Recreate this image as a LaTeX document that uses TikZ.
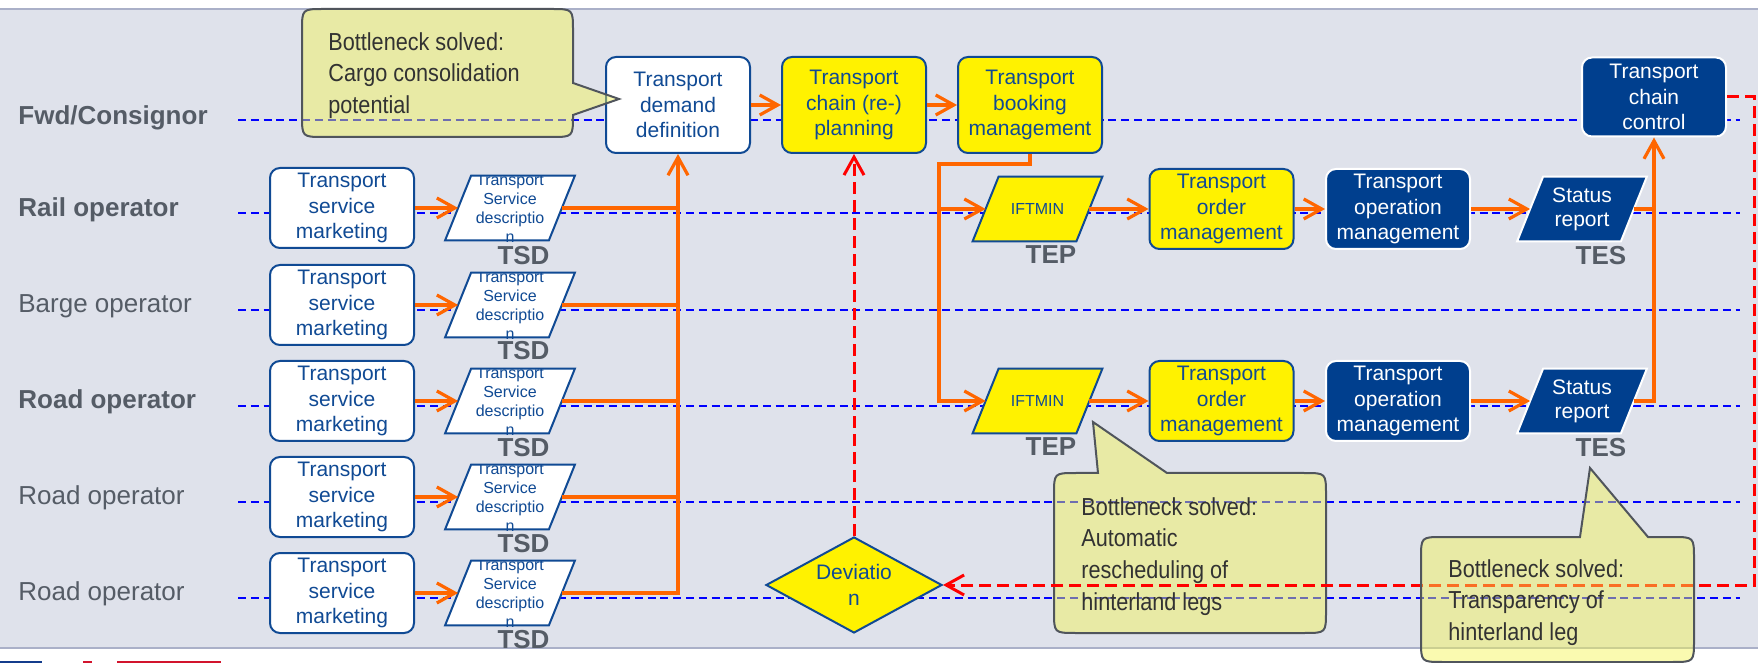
\documentclass[tikz,border=0pt]{standalone}
\usepackage{fontspec}
\setmainfont{Liberation Sans}
\newfontfamily\calloutfont[FakeStretch=0.88]{Liberation Sans}
\usetikzlibrary{arrows.meta,shapes.geometric}

\definecolor{panel}{RGB}{223,226,235}
\definecolor{panelrule}{RGB}{170,176,200}
\definecolor{lanecol}{RGB}{0,0,255}
\definecolor{labelgray}{RGB}{85,92,102}
\definecolor{boxblue}{RGB}{16,74,148}
\definecolor{darkfill}{RGB}{0,63,142}
\definecolor{flowcol}{RGB}{255,102,0}
\definecolor{alertcol}{RGB}{255,0,0}
\definecolor{noteface}{RGB}{245,245,80}
\definecolor{noteedge}{RGB}{80,85,92}
\definecolor{notetextcol}{RGB}{50,50,50}
\definecolor{logoblue}{RGB}{20,60,140}
\definecolor{logored}{RGB}{210,20,45}

\tikzset{
  lanerule/.style={draw=lanecol, line width=1pt, dash pattern=on 4pt off 2.4pt},
  lanelabel/.style={anchor=base west, inner sep=0pt, text=labelgray, font=\fontsize{13}{15}\selectfont},
  boldlane/.style={lanelabel, font=\bfseries\fontsize{13}{15}\selectfont},
  procbox/.style={rectangle, rounded corners=5pt, draw=boxblue, line width=1pt, fill=white,
    text=boxblue, align=center, inner sep=0pt, minimum width=72pt, minimum height=40pt,
    font=\fontsize{10.5}{12.9}\selectfont},
  hilite/.style={procbox, fill=yellow},
  darkbox/.style={procbox, fill=darkfill, draw=white, text=white},
  slantframe/.style={rectangle, inner sep=0pt, minimum width=51.5pt, minimum height=32pt},
  slanttext/.style={align=center, inner sep=0pt, font=\fontsize{8}{9.5}\selectfont},
  statustext/.style={font=\fontsize{10.5}{12}\selectfont, text=white},
  doclabel/.style={inner sep=0pt, text=labelgray, font=\bfseries\fontsize{13}{15}\selectfont},
  flowline/.style={draw=flowcol, line width=1.6pt},
  flowarrow/.style={flowline, -{Straight Barb[length=9pt,width=10pt]}},
  alertline/.style={draw=alertcol, line width=1.5pt, dash pattern=on 6pt off 3pt},
  alertarrow/.style={alertline, -{Straight Barb[length=9pt,width=10pt]}},
  notebody/.style={fill=noteface, fill opacity=0.45, draw=noteedge, line width=1pt},
  notetext/.style={anchor=north west, inner sep=0pt, align=left, text=notetextcol,
    font=\calloutfont\fontsize{12.3}{15.85}\selectfont},
}

% slanted (parallelogram) document symbol: name, position, fill, border, text style, text
\newcommand\slantbox[6]{%
  \node[slantframe] (#1) at (#2) {};
  \filldraw[fill=#3, draw=#4, line width=1pt]
    ([xshift=-6.5pt]#1.south west) -- ([xshift=6.5pt]#1.north west)
    -- ([xshift=6.5pt]#1.north east) -- ([xshift=-6.5pt]#1.south east) -- cycle;
  \begin{scope}
    \clip ([xshift=-8pt]#1.north west) rectangle ([xshift=8pt,yshift=-2pt]#1.south east);
    \node[slanttext, #5] (#1-txt) at (#1) {#6};
  \end{scope}
}

\begin{document}
\begin{tikzpicture}[x=0.5pt, y=-0.5pt]
  \useasboundingbox (0,0) rectangle (1758,663);

  % panel
  \fill[white] (0,0) rectangle (1758,663);
  \fill[panel] (0,9) rectangle (1758,648);
  \draw[panelrule, line width=1pt] (0,9) -- (1758,9);
  \draw[panelrule, line width=1pt] (0,648) -- (1758,648);
  \fill[logoblue] (0,661) rectangle (42,663);
  \fill[logored] (83,661) rectangle (92,663);
  \fill[logored] (117,661) rectangle (221,663);

  % swim lanes
  \foreach \y in {120.5,213.5,310,406,502,598}
    \draw[lanerule] (238,\y) -- (1740,\y);
  \node[boldlane]  (lane-fwd)   at (18,125)   {Fwd/Consignor};
  \node[boldlane]  (lane-rail)  at (18,216.5) {Rail operator};
  \node[lanelabel] (lane-barge) at (18,312.7) {Barge operator};
  \node[boldlane]  (lane-road)  at (18,408.3) {Road operator};
  \node[lanelabel] (lane-road2) at (18,504.3) {Road operator};
  \node[lanelabel] (lane-road3) at (18,600)   {Road operator};

  % carriers: service marketing and service descriptions
  \foreach \i/\y/\t in {1/208/256, 2/305/351, 3/401/447.5, 4/497/544, 5/593/639.5}{
    \node[procbox] (mk\i) at (342,\y) {Transport\\service\\marketing};
    \slantbox{tsd\i}{510,\y}{white}{boxblue}{text=boxblue}{Transport\\Service\\descriptio\\n}
    \node[doclabel] (tsdtag\i) at (523.5,\t) {TSD};
  }

  % forwarder / consignor chain
  \node[procbox, minimum height=48pt] (dem)  at (678,105)  {Transport\\demand\\definition};
  \node[hilite,  minimum height=48pt] (plan) at (854,105)  {Transport\\chain (re-)\\planning};
  \node[hilite,  minimum height=48pt] (book) at (1030,105) {Transport\\booking\\management};
  \node[darkbox, minimum height=39.5pt] (ctrl) at (1654,97) {Transport\\chain\\control};

  % execution rows
  \foreach \i/\y/\t in {1/209/255, 2/401/447}{
    \slantbox{ift\i}{1037.5,\y}{yellow}{boxblue}{text=boxblue}{IFTMIN}
    \node[doclabel] (teptag\i) at (1051,\t) {TEP};
    \node[hilite] (ord\i) at (1221.5,\y) {Transport\\order\\management};
    \node[darkbox] (ops\i) at (1398,\y) {Transport\\operation\\management};
    \slantbox{st\i}{1582,\y}{darkfill}{white}{statustext}{Status\\report}
    \node[doclabel] (testag\i) at (1601,\t+1) {TES};
  }

  % deviation decision
  \node[diamond, aspect=1.83, draw=boxblue, line width=1pt, fill=yellow, text=boxblue,
        align=center, inner sep=0pt, minimum width=88pt, minimum height=48pt,
        font=\fontsize{10.5}{13}\selectfont] (dev) at (854,585) {Deviatio\\n};

  % information flow
  \foreach \i in {1,...,5}
    \draw[flowarrow] (mk\i) -- (tsd\i);
  \foreach \i in {1,...,4}
    \draw[flowline] (tsd\i.east) -- (tsd\i.east -| dem.south);
  \draw[flowarrow] (tsd5.east) -| (dem.south);
  \draw[flowarrow] (dem) -- (plan);
  \draw[flowarrow] (plan) -- (book);
  \coordinate (split) at (939,164);
  \draw[flowarrow] (book.south) |- (split) |- (ift2.west);
  \draw[flowarrow] (split |- ift1.west) -- (ift1.west);
  \foreach \i in {1,2}{
    \draw[flowarrow] (ift\i) -- (ord\i);
    \draw[flowarrow] (ord\i) -- (ops\i);
    \draw[flowarrow] (ops\i) -- (st\i);
  }
  \draw[flowline] (st1.east) -- (st1.east -| ctrl.south);
  \draw[flowarrow] (st2.east) -| (ctrl.south);

  % callout: consolidation
  \filldraw[notebody] (324,9) -- (551,9) .. controls (573,9) .. (573,31) -- (573,83)
    -- (619,99) -- (573,115) .. controls (573,137) .. (551,137) -- (324,137)
    .. controls (302,137) .. (302,115) -- (302,31) .. controls (302,9) .. (324,9) -- cycle;
  \node[notetext] (note-consol) at (328,32) {Bottleneck solved:\\Cargo consolidation\\potential};

  % callout: rescheduling
  \filldraw[notebody] (1054,495) .. controls (1054,473) .. (1076,473) -- (1098,473)
    -- (1093,422) -- (1167,473) -- (1304,473) .. controls (1326,473) .. (1326,495)
    -- (1326,611) .. controls (1326,633) .. (1304,633) -- (1076,633)
    .. controls (1054,633) .. (1054,611) -- cycle;
  \node[notetext] (note-resched) at (1081,497) {Bottleneck solved:\\Automatic\\rescheduling of\\hinterland legs};

  % deviation feedback
  \draw[alertarrow] (dev.north) -- (plan.south);
  \coordinate (loop) at (1754,97);
  \draw[alertarrow] (ctrl.east) -- (loop) |- (dev.east);

  % callout: transparency
  \filldraw[notebody] (1421,559) .. controls (1421,537) .. (1443,537) -- (1580,537)
    -- (1590,468) -- (1648,537) -- (1672,537) .. controls (1694,537) .. (1694,559)
    -- (1694,640) .. controls (1694,662) .. (1672,662) -- (1443,662)
    .. controls (1421,662) .. (1421,640) -- cycle;
  \node[notetext] (note-transp) at (1448,559) {Bottleneck solved:\\Transparency of\\hinterland leg};
\end{tikzpicture}
\end{document}
